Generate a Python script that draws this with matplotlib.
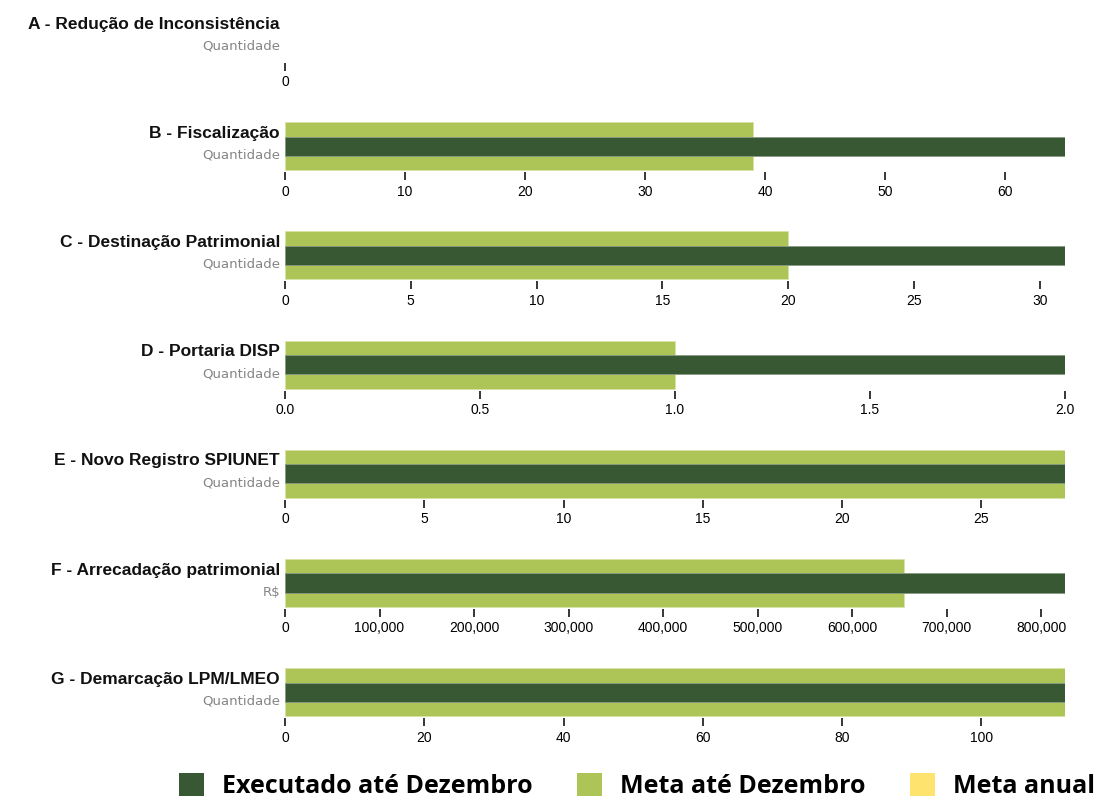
import matplotlib.pyplot as plt
from matplotlib.patches import Patch
from matplotlib.ticker import MultipleLocator, FuncFormatter

titulos = ["A - Redução de Inconsistência", "B - Fiscalização", "C - Destinação Patrimonial",
           "D - Portaria DISP", "E - Novo Registro SPIUNET", "F - Arrecadação patrimonial",
           "G - Demarcação LPM/LMEO"]
unidades = ["Quantidade", "Quantidade", "Quantidade", "Quantidade", "Quantidade", "R$", "Quantidade"]
executado = [0, 65, 31, 2, 28, 825000, 112]
meta_dez = [0, 39, 20, 1, 28, 655000, 112]
passo = [1, 10, 5, 0.5, 5, 100000, 20]

c_exec = "#385834"
c_meta = "#adc556"
c_anual = "#fee46e"

W, H = 1100, 801
fig = plt.figure(figsize=(11, 8.01), dpi=100)

for i in range(len(titulos)):
    top = 13 + 109.2 * i
    ax = fig.add_axes([285 / W, 1 - (top + 50) / H, 780 / W, 50 / H])
    if meta_dez[i] > 0:
        ax.barh(0, meta_dez[i], height=1.0, color=c_meta, edgecolor="#d8e3a8", linewidth=0.6)
    if executado[i] > 0:
        ax.barh(0, executado[i], height=0.4, color=c_exec, edgecolor="#8a9a86", linewidth=0.6)
    xmax = max(executado[i], meta_dez[i])
    if xmax == 0:
        ax.set_xlim(0, 1)
        ax.set_xticks([0])
    else:
        ax.set_xlim(0, xmax)
        ax.xaxis.set_major_locator(MultipleLocator(passo[i]))
    ax.set_ylim(-0.5 - 2 / 48, 0.5)
    if passo[i] >= 100000:
        ax.xaxis.set_major_formatter(FuncFormatter(lambda v, p: "{:,.0f}".format(v)))
    elif passo[i] < 1:
        ax.xaxis.set_major_formatter(FuncFormatter(lambda v, p: "{:.1f}".format(v)))
    for s in ax.spines.values():
        s.set_visible(False)
    ax.set_yticks([])
    ax.tick_params(axis="x", direction="out", length=6, width=1.1, pad=3,
                   labelsize=10, colors="black")
    for lb in ax.get_xticklabels():
        lb.set_family("Liberation Sans")
    fig.text(280 / W, 1 - (top + 11) / H, titulos[i], ha="right", va="center",
             fontsize=12.5, fontweight="bold", family="Liberation Sans", color="#111111")
    fig.text(280 / W, 1 - (top + 33) / H, unidades[i], ha="right", va="center",
             fontsize=9.5, family="DejaVu Sans", color="#858585")

handles = [Patch(facecolor=c_exec, label="Executado até Dezembro"),
           Patch(facecolor=c_meta, label="Meta até Dezembro"),
           Patch(facecolor=c_anual, label="Meta anual")]
fig.legend(handles=handles, loc="center", bbox_to_anchor=(637 / W, 15 / H), ncol=3,
           frameon=False, prop={"family": "Open Sans", "weight": "bold", "size": 18},
           handlelength=1.0, handleheight=1.0, handletextpad=0.7, columnspacing=1.8,
           borderpad=0)

fig.savefig("out.png", dpi=100)
